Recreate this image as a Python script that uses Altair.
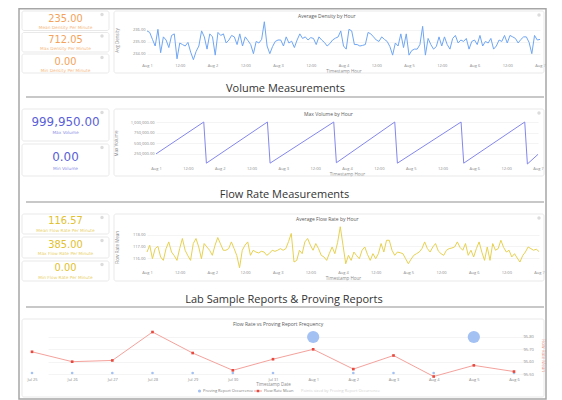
import altair as alt
import pandas as pd

# ---------------- values ----------------
density_kpi_values = ["235.00", "712.05", "0.00"]
density_kpi_labels = ["Mean Density Per Minute", "Max Density Per Minute", "Min Density Per Minute"]
volume_kpi_values = ["999,950.00", "0.00"]
volume_kpi_labels = ["Max Volume", "Min Volume"]
flow_kpi_values = ["116.57", "385.00", "0.00"]
flow_kpi_labels = ["Mean Flow Rate Per Minute", "Max Flow Rate Per Minute", "Min Flow Rate Per Minute"]
section_titles = ["Volume Measurements", "Flow Rate Measurements", "Lab Sample Reports & Proving Reports"]
chart_titles = ["Average Density by Hour", "Max Volume by Hour", "Average Flow Rate by Hour",
                "Flow Rate vs Proving Report Frequency"]
legend_labels = ["Proving Report Occurrence", "Flow Rate Mean", "Points sized by Proving Report Occurrence"]

# hourly average density, Aug 1 00:00 -> Aug 7 00:00
density_avg = [
    235.91, 235.78, 235.20, 234.65, 236.04, 234.09, 235.41, 235.15, 234.52, 235.53,
    235.66, 233.58, 234.90, 234.77, 234.65, 234.95, 234.14, 233.51, 234.20, 234.65,
    235.91, 235.41, 234.39, 235.66, 235.41, 233.89, 235.78, 235.53, 235.66, 234.90,
    235.15, 235.53, 235.41, 234.77, 235.66, 234.65, 235.41, 235.10, 234.77, 234.01,
    235.03, 234.90, 235.20, 236.67, 234.65, 234.01, 234.60, 235.03, 235.15,
    235.15, 234.65, 235.41, 234.90, 235.05, 234.52, 235.15, 235.66, 235.28, 235.41,
    235.15, 235.35, 235.28, 234.77, 235.41, 235.15, 234.95, 234.65, 234.85, 235.15,
    235.30, 235.40, 235.91, 234.65, 234.39, 236.04, 235.91, 234.77, 234.77, 234.65,
    234.70, 234.77, 235.78, 235.66, 235.41, 235.15, 235.03, 235.41, 235.20, 235.03,
    234.60, 233.89, 234.90, 234.65, 235.66, 234.52, 235.66, 233.89, 234.27, 234.39,
    234.39, 234.77, 236.29, 233.89, 235.28, 234.77, 234.39, 234.60, 235.41, 234.65,
    235.41, 234.77, 234.39, 235.28, 235.53, 234.90, 235.15, 235.03, 235.28, 234.39,
    235.03, 235.15, 234.77, 235.53, 234.65, 235.03, 234.90, 235.28, 234.39, 234.65,
    235.15, 235.03, 235.53, 234.90, 235.53, 235.41, 235.28, 234.90, 235.20, 235.41,
    235.41, 234.95, 234.01, 235.53, 235.15, 235.20,
]

# hourly average flow rate, Aug 1 00:00 -> Aug 7 00:00
flow_avg = [
    116.51, 117.09, 115.94, 116.80, 117.00, 116.09, 115.80, 116.80, 117.37, 116.51,
    116.20, 115.80, 116.80, 117.66, 116.66, 116.20, 115.80, 117.23, 117.66, 116.94,
    115.94, 117.23, 116.94, 116.66, 116.23, 117.09, 117.74, 117.20, 116.66, 116.66,
    116.80, 117.37, 116.80, 116.20, 115.17, 116.66, 117.09, 117.37, 116.23, 116.66,
    116.51, 116.43, 116.57, 116.51, 116.23, 116.40, 116.66, 116.57, 116.66,
    116.80, 116.66, 116.80, 117.40, 118.09, 115.66, 115.80, 116.66, 116.37, 117.37,
    117.66, 117.10, 116.66, 117.23, 116.80, 116.23, 116.09, 115.80, 116.40, 116.94,
    116.37, 117.30, 118.66, 117.09, 115.51, 116.23, 115.80, 116.51, 116.20, 115.94,
    116.66, 116.94, 116.30, 115.80, 116.37, 115.94, 116.37, 117.23, 116.51, 117.51,
    117.51, 116.66, 116.23, 116.51, 116.45, 116.37, 115.94, 115.51, 115.90, 116.23,
    116.37, 116.51, 116.80, 117.37, 116.80, 116.51, 116.94, 117.23, 116.60, 116.37,
    116.23, 116.66, 116.80, 116.85, 116.94, 117.37, 116.90, 116.66, 117.23, 116.23,
    116.66, 116.09, 116.80, 117.37, 116.50, 115.80, 116.94, 115.80, 117.23, 116.66,
    116.80, 117.51, 116.90, 116.51, 116.66, 116.09, 116.37, 116.00, 115.66, 116.20,
    116.51, 116.94, 116.80, 116.66, 116.75, 116.55,
]

# max volume: hours after Aug 1 00:00 where the sawtooth turns
volume_hours = [0, 18, 19, 42, 43, 67, 68, 90, 91, 115, 116, 139, 140, 144]
volume_max = [240000, 999950, 20000, 999950, 20000, 999950, 30000, 999950, 20000,
              999950, 20000, 999950, 0, 230000]

proving_dates = ["2024-07-25", "2024-07-26", "2024-07-27", "2024-07-28", "2024-07-29",
                 "2024-07-30", "2024-07-31", "2024-08-01", "2024-08-02", "2024-08-03",
                 "2024-08-04", "2024-08-05", "2024-08-06"]
flow_rate_mean = [95.68, 95.60, 95.61, 95.84, 95.67, 95.53, 95.62, 95.70, 95.54, 95.65,
                  95.48, 95.57, 95.52]
proving_occurrence = [0, 0, 0, 0, 0, 0, 0, 1, 0, 0, 0, 1, 0]

density_ticks = [234, 235, 236]
volume_ticks = [250000, 500000, 750000, 1000000]
flow_ticks = [116, 117, 118]
proving_ticks = [95.5, 95.6, 95.7, 95.8]

# ---------------- styling / layout ----------------
FONT = "Open Sans"
KPI_FONT = "DejaVu Sans"
W, H = 546, 392          # view size; page margin puts view origin at screen (8, 8)
S = 8                    # screen -> view shift
ORANGE, ORANGE_L = "#f4a259", "#f6b77e"
BLUE, BLUE_L = "#5b5fd8", "#8c8fe6"
YELLOW, YELLOW_L = "#e2c12e", "#e9cf5f"
DENS_LINE, VOL_LINE, FLOW_LINE = "#6fa6f4", "#8487ec", "#e7d150"
RED_LINE, RED_PT = "#f4a29c", "#e8493e"
PROV_BLUE = "#a3c1f3"
AX_TXT = "#8a8a8a"


def v(val):
    return val - S


start = pd.Timestamp("2024-08-01")
density_df = pd.DataFrame({"ts": start + pd.to_timedelta(range(len(density_avg)), unit="h"),
                           "value": density_avg})
flow_df = pd.DataFrame({"ts": start + pd.to_timedelta(range(len(flow_avg)), unit="h"),
                        "value": flow_avg})
volume_df = pd.DataFrame({"ts": start + pd.to_timedelta(volume_hours, unit="h"),
                          "value": volume_max})
prov_df = pd.DataFrame({"date": pd.to_datetime(proving_dates), "flow": flow_rate_mean,
                        "proving": proving_occurrence})

hour_ticks = [alt.DateTime(year=2024, month=8, date=1 + i // 2, hours=12 * (i % 2)) for i in range(13)]
day_ticks = [alt.DateTime(year=2024, month=int(d[5:7]), date=int(d[8:10])) for d in proving_dates]
aug_domain = [alt.DateTime(year=2024, month=8, date=1), alt.DateTime(year=2024, month=8, date=7)]
prov_domain = [alt.DateTime(year=2024, month=7, date=25), alt.DateTime(year=2024, month=8, date=6)]

common_axis = dict(domain=False, ticks=False, labelFontSize=4, titleFontSize=4.5, labelColor=AX_TXT,
                   titleColor=AX_TXT, titleFontWeight="normal", labelFont=FONT, titleFont=FONT,
                   labelOverlap=False)


def hour_axis(bottom_screen):
    return alt.Axis(orient="bottom", offset=v(bottom_screen) - H, values=hour_ticks,
                    labelExpr="hours(datum.value) == 0 ? timeFormat(datum.value, '%b %-d') : timeFormat(datum.value, '%H:%M')",
                    title="Timestamp Hour", grid=False, labelPadding=2, titlePadding=1, labelFlush=False,
                    **common_axis)


def left_axis(axis_x, ticks, fmt, title, title_x, title_y):
    return alt.Axis(orient="left", offset=-v(axis_x), values=ticks, format=fmt, title=title,
                    titleX=title_x - axis_x, titleY=v(title_y), grid=True, gridColor="#ececec",
                    gridWidth=0.6, labelPadding=2, **common_axis)


# ---------------- decorations ----------------
one = pd.DataFrame({"k": [0]})
border = alt.Chart(one).mark_rect(fill="transparent", stroke="#a6a6a6", strokeWidth=1.5).encode(
    x=alt.value(v(19)), x2=alt.value(v(546)), y=alt.value(v(8.75)), y2=alt.value(v(399)))

card_boxes = [
    (22, 109, 11, 30.5), (22, 109, 32.5, 52), (22, 109, 54, 73), (114, 544, 11, 73),
    (22, 109, 109, 141), (22, 109, 144, 176), (114, 544, 109, 176),
    (22, 109, 214, 234), (22, 109, 237, 258), (22, 109, 261, 281), (114, 544, 214, 281),
    (22, 544, 319, 397),
]
cards_df = pd.DataFrame([{"x": v(a), "x2": v(b), "y": v(c), "y2": v(d)} for a, b, c, d in card_boxes])
cards = alt.Chart(cards_df).mark_rect(fill="transparent", stroke="#e3e3e3", strokeWidth=0.8,
                                      cornerRadius=2).encode(
    x=alt.X("x:Q", scale=None, axis=None), x2="x2:Q",
    y=alt.Y("y:Q", scale=None, axis=None), y2="y2:Q")

icons_df = pd.DataFrame(
    [{"x": v(b - 7), "y": v(c + 3.5)} for a, b, c, d in card_boxes if b == 109] +
    [{"x": v(b - 5), "y": v(c + 4)} for a, b, c, d in card_boxes if a == 114])
icons = alt.Chart(icons_df).mark_circle(color="#dcdcdc", size=12, opacity=1).encode(
    x=alt.X("x:Q", scale=None, axis=None), y=alt.Y("y:Q", scale=None, axis=None))

under_df = pd.DataFrame([{"x": v(26), "x2": v(544), "y": v(yy)} for yy in (97, 202, 307)])
underlines = alt.Chart(under_df).mark_rule(color="#c8c8c8", strokeWidth=2).encode(
    x=alt.X("x:Q", scale=None, axis=None), x2="x2:Q", y=alt.Y("y:Q", scale=None, axis=None))

KX = 65.5
ktext = []
for txt, yy in zip(density_kpi_values, (18.6, 40.1, 61.6)):
    ktext.append((txt, KX, yy, 9.8, ORANGE))
for txt, yy in zip(density_kpi_labels, (27.8, 49.2, 70.8)):
    ktext.append((txt, KX, yy, 4.3, ORANGE_L))
for txt, yy in zip(volume_kpi_values, (122.2, 157.4)):
    ktext.append((txt, KX, yy, 11.9, BLUE))
for txt, yy in zip(volume_kpi_labels, (132.9, 168.5)):
    ktext.append((txt, KX, yy, 4.3, BLUE_L))
for txt, yy in zip(flow_kpi_values, (221.3, 244.6, 267.9)):
    ktext.append((txt, KX, yy, 9.8, YELLOW))
for txt, yy in zip(flow_kpi_labels, (231.3, 254.3, 277.9)):
    ktext.append((txt, KX, yy, 4.3, YELLOW_L))
ktext_df = pd.DataFrame([{"t": t, "x": v(x), "y": v(y), "s": s, "c": c} for t, x, y, s, c in ktext])
kpi_texts = alt.Chart(ktext_df).mark_text(align="center", baseline="middle", font=KPI_FONT).encode(
    x=alt.X("x:Q", scale=None, axis=None), y=alt.Y("y:Q", scale=None, axis=None),
    text="t:N", size=alt.Size("s:Q", scale=None), color=alt.Color("c:N", scale=None))

htext_df = pd.DataFrame([{"t": t, "x": v(x), "y": v(y)} for t, x, y in
                         zip(section_titles, (285.5, 284.5, 284), (89, 195, 300))])
header_texts = alt.Chart(htext_df).mark_text(align="center", baseline="middle", font=FONT,
                                              fontSize=11, color="#333333").encode(
    x=alt.X("x:Q", scale=None, axis=None), y=alt.Y("y:Q", scale=None, axis=None), text="t:N")

ltext = []
for txt, xx, yy in zip(chart_titles, (298, 304, 296, 233), (16, 114, 219, 324)):
    ltext.append((txt, xx, yy, 5, "#5a5a5a"))
for txt, xx, col in zip(legend_labels, (203, 264, 301), ("#7a7a7a", "#7a7a7a", "#d2d2d2")):
    ltext.append((txt, xx, 391, 4, col))
ltext_df = pd.DataFrame([{"t": t, "x": v(x), "y": v(y), "s": s, "c": c} for t, x, y, s, c in ltext])
left_texts = alt.Chart(ltext_df).mark_text(align="left", baseline="middle", font=FONT).encode(
    x=alt.X("x:Q", scale=None, axis=None), y=alt.Y("y:Q", scale=None, axis=None),
    text="t:N", size=alt.Size("s:Q", scale=None), color=alt.Color("c:N", scale=None))

leg_dot = alt.Chart(one).mark_circle(color=PROV_BLUE, size=10, opacity=1).encode(
    x=alt.value(v(199.5)), y=alt.value(v(391)))
leg_line = alt.Chart(one).mark_rule(color=RED_LINE, strokeWidth=1).encode(
    x=alt.value(v(254)), x2=alt.value(v(262)), y=alt.value(v(391)))
leg_pt = alt.Chart(one).mark_square(color=RED_PT, size=6, opacity=1).encode(
    x=alt.value(v(258)), y=alt.value(v(391)))

# ---------------- data charts ----------------
density = alt.Chart(density_df).mark_line(color=DENS_LINE, strokeWidth=1).encode(
    x=alt.X("ts:T", scale=alt.Scale(domain=aug_domain, range=[v(147), v(540)], nice=False),
            axis=hour_axis(61)),
    y=alt.Y("value:Q", scale=alt.Scale(domain=[233.4, 236.9], range=[v(61), v(19)], zero=False, nice=False),
            axis=left_axis(147, density_ticks, ".2f", "Avg Density", 119, 40)))

volume = alt.Chart(volume_df).mark_line(color=VOL_LINE, strokeWidth=1).encode(
    x=alt.X("ts:T", scale=alt.Scale(domain=aug_domain, range=[v(156), v(538)], nice=False),
            axis=hour_axis(164)),
    y=alt.Y("value:Q", scale=alt.Scale(domain=[0, 1000000], range=[v(164), v(122)], zero=False, nice=False),
            axis=left_axis(156, volume_ticks, ",.2f", "Max Volume", 118, 143)))

flow = alt.Chart(flow_df).mark_line(color=FLOW_LINE, strokeWidth=1).encode(
    x=alt.X("ts:T", scale=alt.Scale(domain=aug_domain, range=[v(147), v(539)], nice=False),
            axis=hour_axis(268.6)),
    y=alt.Y("value:Q", scale=alt.Scale(domain=[115.1, 118.8], range=[v(268.6), v(225.1)], zero=False, nice=False),
            axis=left_axis(147, flow_ticks, ".2f", "Flow Rate Mean", 119, 247)))

prov_x_scale = alt.Scale(domain=prov_domain, range=[v(32), v(514)], nice=False)
proving = alt.Chart(prov_df).mark_circle(color=PROV_BLUE, opacity=1).encode(
    x=alt.X("date:T", scale=prov_x_scale, axis=None),
    y=alt.Y("proving:Q", scale=alt.Scale(domain=[0, 1], range=[v(373), v(337)], zero=False, nice=False), axis=None),
    size=alt.Size("proving:Q", scale=alt.Scale(domain=[0, 1], range=[7, 150]), legend=None))

flow_mean = alt.Chart(prov_df).mark_line(
    color=RED_LINE, strokeWidth=1,
    point=alt.OverlayMarkDef(shape="square", size=7, color=RED_PT, filled=True, opacity=1)).encode(
    x=alt.X("date:T", scale=prov_x_scale,
            axis=alt.Axis(orient="bottom", offset=v(376) - H, values=day_ticks, format="%b %-d",
                          formatType="time", title="Timestamp Date", grid=False, labelPadding=1,
                          titlePadding=0, labelFlush=False, **common_axis)),
    y=alt.Y("flow:Q", scale=alt.Scale(domain=[95.45, 95.85], range=[v(380.2), v(330.8)], zero=False, nice=False),
            axis=alt.Axis(orient="right", offset=v(520) - W, values=proving_ticks, format=".2f",
                          title="Flow Rate Mean", titleX=20, titleY=v(355), grid=True, gridColor="#ececec",
                          gridWidth=0.6, labelPadding=3,
                          **{**common_axis, "titleColor": "#f08a80"})))

chart = alt.layer(
    border, cards, underlines, icons, kpi_texts, header_texts, left_texts, leg_dot, leg_line, leg_pt,
    density, volume, flow, proving, flow_mean,
).resolve_scale(
    x="independent", y="independent", size="independent", color="independent"
).resolve_axis(
    x="independent", y="independent"
).properties(
    width=W, height=H, padding=0, autosize=alt.AutoSizeParams(type="none")
).configure(font=FONT, background="white").configure_view(strokeWidth=0)

chart.save("out.html", embed_options={"renderer": "svg", "actions": False})
